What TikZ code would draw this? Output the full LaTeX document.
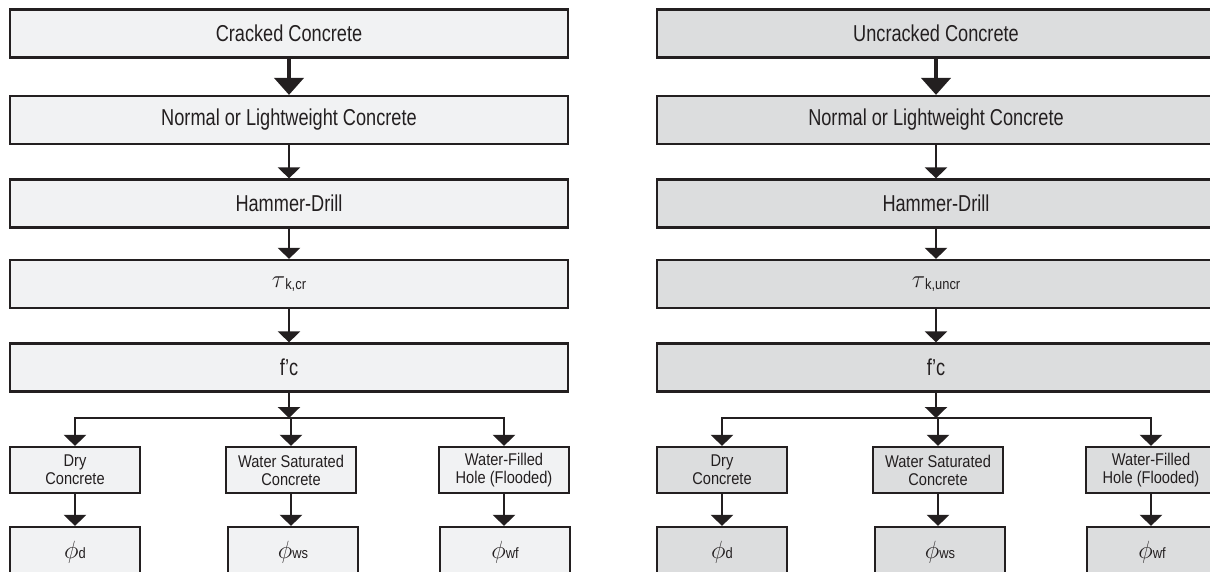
\documentclass[tikz,border=0pt]{standalone}
\usepackage{fontspec}
\setmainfont[FakeStretch=0.79]{Liberation Sans}
\newfontfamily\smallfam[FakeStretch=0.86]{Liberation Sans}
\usetikzlibrary{arrows.meta}
\definecolor{ink}{HTML}{231F20}
\definecolor{lightfill}{HTML}{F1F2F3}
\definecolor{darkfill}{HTML}{DCDDDE}
\begin{document}
\begin{tikzpicture}[x=1pt,y=-1pt,
  box/.style={draw=ink, line width=2.2pt, minimum height=48pt, inner sep=0pt, text=ink, font=\fontsize{23}{27}\selectfont},
  widebox/.style={box, minimum width=558pt},
  smallbox/.style={box, minimum width=130pt, minimum height=46pt, align=center, font=\smallfam\fontsize{17}{18}\selectfont},
  phibox/.style={box, minimum width=130pt, minimum height=50pt},
  arr/.style={draw=ink, line width=2.5pt, -{Triangle[width=22pt,length=11pt]}},
  bigarr/.style={draw=ink, line width=4.5pt, -{Triangle[width=29pt,length=17pt]}},
  branch/.style={draw=ink, line width=2.5pt, line cap=rect},
]
\useasboundingbox (0,0) rectangle (1210,572);
\clip (0,0) rectangle (1210,572);
\foreach \s/\dx/\col/\head/\sub in {L/0/lightfill/Cracked Concrete/{k,cr}, R/647/darkfill/Uncracked Concrete/{k,uncr}}{
  \node[widebox, fill=\col] (top\s) at (289+\dx,33.5) {\head};
  \node[widebox, fill=\col] (nl\s) at (289+\dx,120) {Normal or Lightweight Concrete};
  \node[widebox, fill=\col] (hd\s) at (289+\dx,203.5) {Hammer-Drill};
  \node[widebox, fill=\col] (tau\s) at (289+\dx,284) {{\fontsize{28}{28}\selectfont$\tau$}\raisebox{-1.5pt}{\smallfam\fontsize{15}{15}\selectfont\sub}};
  \node[widebox, fill=\col] (fc\s) at (289+\dx,367.5) {f’c};
  \node[smallbox, fill=\col] (dry\s) at (75+\dx,470) {Dry\\Concrete};
  \node[smallbox, fill=\col] (ws\s) at (291+\dx,470) {Water Saturated\\Concrete};
  \node[smallbox, fill=\col] (wf\s) at (504+\dx,470) {Water-Filled\\Hole (Flooded)};
  \node[phibox, fill=\col] (pd\s) at (75+\dx,552) {{\fontsize{23}{23}\selectfont$\phi$}{\smallfam\fontsize{15}{15}\selectfont d}};
  \node[phibox, fill=\col] (pws\s) at (293+\dx,552) {{\fontsize{23}{23}\selectfont$\phi$}{\smallfam\fontsize{15}{15}\selectfont ws}};
  \node[phibox, fill=\col] (pwf\s) at (505+\dx,552) {{\fontsize{23}{23}\selectfont$\phi$}{\smallfam\fontsize{15}{15}\selectfont wf}};
  \coordinate (j\s) at (289+\dx,418);
  \coordinate (bd\s) at (dry\s.north |- j\s);
  \coordinate (bw\s) at (ws\s.north |- j\s);
  \coordinate (bf\s) at (wf\s.north |- j\s);
  \draw[bigarr] (top\s) -- (nl\s);
  \draw[arr] (nl\s) -- (hd\s);
  \draw[arr] (hd\s) -- (tau\s);
  \draw[arr] (tau\s) -- (fc\s);
  \draw[arr] (fc\s.south) -- (j\s);
  \draw[branch] (bd\s) -- (bf\s);
  \draw[arr] (bd\s) -- (dry\s.north);
  \draw[arr] (bw\s) -- (ws\s.north);
  \draw[arr] (bf\s) -- (wf\s.north);
  \draw[arr] (dry\s.south) -- (pd\s.north -| dry\s.south);
  \draw[arr] (ws\s.south) -- (pws\s.north -| ws\s.south);
  \draw[arr] (wf\s.south) -- (pwf\s.north -| wf\s.south);
}
\end{tikzpicture}
\end{document}
